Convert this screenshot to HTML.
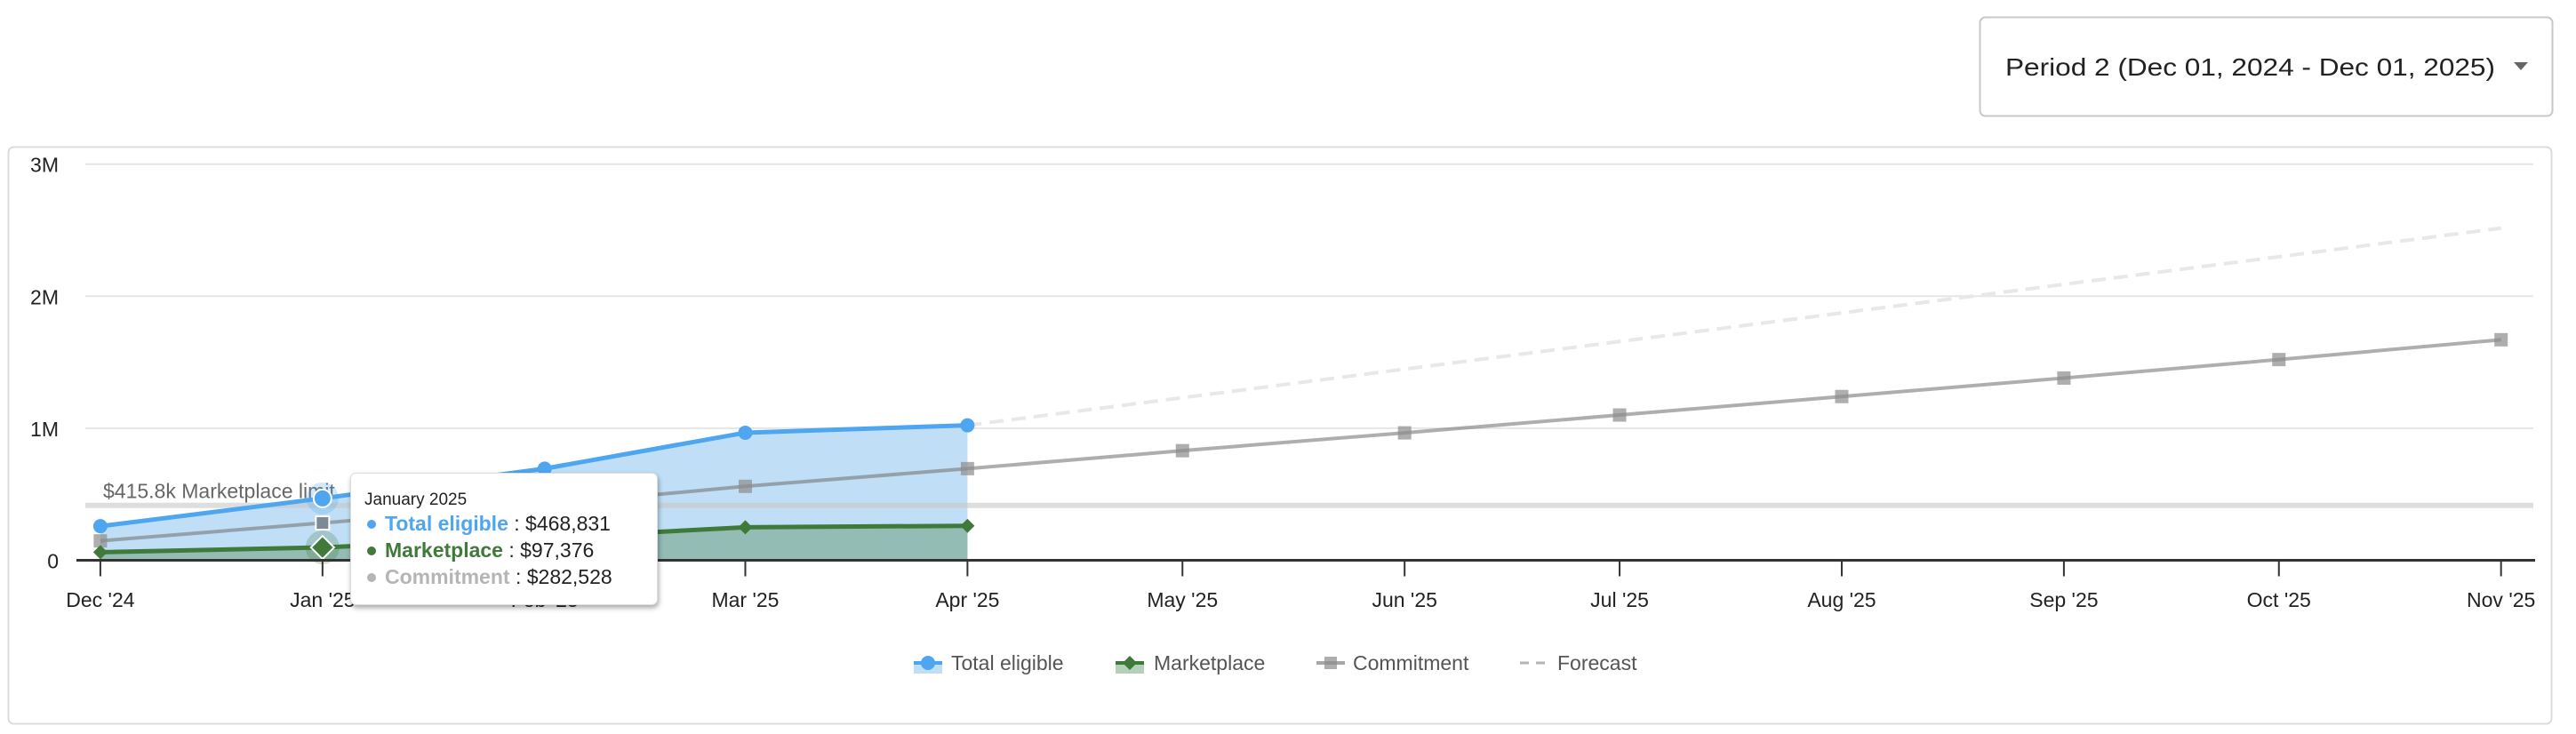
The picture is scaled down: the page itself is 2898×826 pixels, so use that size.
<!DOCTYPE html>
<html><head><meta charset="utf-8"><style>
html,body{margin:0;padding:0;background:#fff;width:2898px;height:826px;overflow:hidden;font-family:"Liberation Sans",sans-serif}
svg{display:block}
</style></head><body>
<svg id="chart" width="2898" height="826" viewBox="0 0 2898 826" xmlns="http://www.w3.org/2000/svg" font-family="Liberation Sans, sans-serif">
  <g>
    <rect x="2227.5" y="19.5" width="644" height="111" rx="6" fill="#fff" stroke="#c8c8c8" stroke-width="2"/>
    <text x="2256" y="85" font-size="28" fill="#222" textLength="551" lengthAdjust="spacingAndGlyphs">Period 2 (Dec 01, 2024 - Dec 01, 2025)</text>
    <path d="M2828 70 L2844 70 L2836 79 Z" fill="#666"/>
  </g>
  <rect x="9.5" y="165.5" width="2861" height="649" rx="6" fill="#fff" stroke="#dcdcdc" stroke-width="2"/>
  <g id="grid"></g>
  <g id="areas"></g>
  <g id="lines"></g>
  <g id="axis"></g>
  <g id="legend"></g>
  <g id="tooltip">
    <rect x="394.5" y="532.5" width="345" height="148" rx="6" fill="#fff" stroke="#ddd" stroke-width="1" style="filter:drop-shadow(1px 3px 3px rgba(0,0,0,0.35))"/>
    <text x="410" y="568" font-size="19" fill="#222">January 2025</text>
    <circle cx="418" cy="590" r="5" fill="#4da6ef"/>
    <text x="433" y="597" font-size="23" fill="#222"><tspan font-weight="bold" fill="#4da6ef">Total eligible</tspan> : $468,831</text>
    <circle cx="418" cy="620" r="5" fill="#3f7a3a"/>
    <text x="433" y="627" font-size="23" fill="#222"><tspan font-weight="bold" fill="#3f7a3a">Marketplace</tspan> : $97,376</text>
    <circle cx="418" cy="650" r="5" fill="#b5b5b5"/>
    <text x="433" y="657" font-size="23" fill="#222"><tspan font-weight="bold" fill="#b5b5b5">Commitment</tspan> : $282,528</text>
  </g>
</svg>
<script>
const months = ["Dec '24","Jan '25","Feb '25","Mar '25","Apr '25","May '25","Jun '25","Jul '25","Aug '25","Sep '25","Oct '25","Nov '25"];
const totalEligible = [0.258, 0.468831, 0.694, 0.966, 1.022];
const marketplace = [0.061, 0.097376, 0.17, 0.25, 0.261];
const commitment = [0.147, 0.282528, 0.42, 0.56, 0.694, 0.83, 0.965, 1.10, 1.24, 1.38, 1.52, 1.67];
const forecastEnd = 2.515;
const marketplaceLimit = 0.4158;
const yTicks = [0, 1, 2, 3];
const yTickLabels = ["0", "1M", "2M", "3M"];

const NS = "http://www.w3.org/2000/svg";
const base = new Date(2024, 11, 1).getTime();
function dayOf(i){ return Math.round((new Date(2024, 11 + i, 1).getTime() - base) / 86400000); }
function x(i){ return 112.9 + dayOf(i) * 8.062; }
function y(v){ return 630.5 - v * 148.6; }
function mk(tag, attrs, parent){ const e = document.createElementNS(NS, tag); for (const k in attrs) e.setAttribute(k, attrs[k]); parent.appendChild(e); return e; }
const grid = document.getElementById('grid'), areas = document.getElementById('areas'), lines = document.getElementById('lines'), axis = document.getElementById('axis'), legend = document.getElementById('legend');

yTicks.forEach((t, i) => {
  if (t > 0) {
    const g = mk('line', {x1: 96, x2: 2850, y1: y(t), y2: y(t), stroke: '#e6e6e6', 'stroke-width': 2}, grid);
    
    
  }
  const l = mk('text', {x: 66, y: y(t) + 9, 'font-size': 23, fill: '#222', 'text-anchor': 'end'}, grid);
  l.textContent = yTickLabels[i];
  
  
});

// total eligible area
let d = 'M' + x(0) + ' ' + y(0);
totalEligible.forEach((v, i) => d += ' L' + x(i) + ' ' + y(v));
d += ' L' + x(totalEligible.length - 1) + ' ' + y(0) + ' Z';
const a1 = mk('path', {d: d, fill: '#c0dff6'}, areas);


d = 'M' + x(0) + ' ' + y(0);
marketplace.forEach((v, i) => d += ' L' + x(i) + ' ' + y(v));
d += ' L' + x(marketplace.length - 1) + ' ' + y(0) + ' Z';
const a2 = mk('path', {d: d, fill: '#93bcb5'}, areas);



// limit line
const lim = mk('line', {x1: 96, x2: 2850, y1: y(marketplaceLimit), y2: y(marketplaceLimit), stroke: 'rgba(200,200,200,0.6)', 'stroke-width': 6}, areas);


const limT = mk('text', {x: 116, y: y(marketplaceLimit) - 8, 'font-size': 23, fill: '#666'}, areas);
limT.textContent = '$415.8k Marketplace limit';



// forecast
const li = totalEligible.length - 1;
const fc = mk('line', {x1: x(li), y1: y(totalEligible[li]), x2: x(months.length - 1), y2: y(forecastEnd), stroke: '#e8e8e8', 'stroke-width': 4, 'stroke-dasharray': '16 9'}, lines);



// commitment
const cp = mk('polyline', {points: commitment.map((v, i) => x(i) + ',' + y(v)).join(' '), fill: 'none', stroke: 'rgba(120,120,120,0.6)', 'stroke-width': 4}, lines);


commitment.forEach((v, i) => {
  const s = mk('rect', {x: x(i) - 7.5, y: y(v) - 7.5, width: 15, height: 15, fill: i === 1 ? '#7d8a96' : 'rgba(140,140,140,0.7)', stroke: i === 1 ? '#fff' : 'none', 'stroke-width': 2}, lines);
  
  
});

// marketplace
const mp = mk('polyline', {points: marketplace.map((v, i) => x(i) + ',' + y(v)).join(' '), fill: 'none', stroke: '#3f7a3a', 'stroke-width': 5}, lines);


marketplace.forEach((v, i) => {
  const r = i === 1 ? 13 : 8;
  if (i === 1) { const h = mk('circle', {cx: x(i), cy: y(v), r: 19, fill: 'rgba(63,122,58,0.25)'}, lines);   }
  const p = mk('path', {d: 'M' + x(i) + ' ' + (y(v) - r) + ' L' + (x(i) + r) + ' ' + y(v) + ' L' + x(i) + ' ' + (y(v) + r) + ' L' + (x(i) - r) + ' ' + y(v) + ' Z', fill: '#3f7a3a', stroke: i === 1 ? '#fff' : 'none', 'stroke-width': 2}, lines);
  
  
});

// total eligible
const tp = mk('polyline', {points: totalEligible.map((v, i) => x(i) + ',' + y(v)).join(' '), fill: 'none', stroke: '#4da6ef', 'stroke-width': 5}, lines);


totalEligible.forEach((v, i) => {
  if (i === 1) { const h = mk('circle', {cx: x(i), cy: y(v), r: 18, fill: 'rgba(77,166,239,0.25)'}, lines);   }
  const c = mk('circle', {cx: x(i), cy: y(v), r: i === 1 ? 10 : 8, fill: '#4da6ef', stroke: i === 1 ? '#fff' : 'none', 'stroke-width': 2}, lines);
  
  
});

// x axis
const ax = mk('line', {x1: 86, x2: 2852, y1: y(0), y2: y(0), stroke: '#333', 'stroke-width': 3}, axis);


months.forEach((m, i) => {
  const t = mk('line', {x1: x(i), x2: x(i), y1: y(0), y2: y(0) + 18, stroke: '#333', 'stroke-width': 2}, axis);
  
  
  const l = mk('text', {x: x(i), y: 683, 'font-size': 23, fill: '#222', 'text-anchor': 'middle'}, axis);
  l.textContent = m;
  
  
});

// legend
const leg = [
  {n: 'Total eligible', x: 1028, tx: 1070},
  {n: 'Marketplace', x: 1255, tx: 1298},
  {n: 'Commitment', x: 1481, tx: 1522},
  {n: 'Forecast', x: 1710, tx: 1752}
];
leg.forEach((e, i) => {
  const g = mk('g', {}, legend);
  
  
  const cy = 746;
  if (i === 0) { mk('rect', {x: e.x, y: cy, width: 32, height: 12, fill: '#c0dff6'}, g); mk('line', {x1: e.x, x2: e.x + 32, y1: cy, y2: cy, stroke: '#4da6ef', 'stroke-width': 4}, g); mk('circle', {cx: e.x + 16, cy: cy, r: 8, fill: '#4da6ef'}, g); }
  if (i === 1) { mk('rect', {x: e.x, y: cy, width: 32, height: 12, fill: '#b5d0b8'}, g); mk('line', {x1: e.x, x2: e.x + 32, y1: cy, y2: cy, stroke: '#3f7a3a', 'stroke-width': 4}, g); mk('path', {d: 'M' + (e.x + 16) + ' ' + (cy - 8) + ' l8 8 l-8 8 l-8 -8 Z', fill: '#3f7a3a'}, g); }
  if (i === 2) { mk('line', {x1: e.x, x2: e.x + 32, y1: cy, y2: cy, stroke: 'rgba(130,130,130,0.7)', 'stroke-width': 4}, g); mk('rect', {x: e.x + 9, y: cy - 7, width: 14, height: 14, fill: 'rgba(140,140,140,0.7)'}, g); }
  if (i === 3) { mk('line', {x1: e.x, x2: e.x + 28, y1: cy, y2: cy, stroke: '#b5b5b5', 'stroke-width': 3, 'stroke-dasharray': '10 8'}, g); }
  const t = mk('text', {x: e.tx, y: 754, 'font-size': 23, fill: '#555'}, g);
  t.textContent = e.n;
});
</script>
</body></html>
